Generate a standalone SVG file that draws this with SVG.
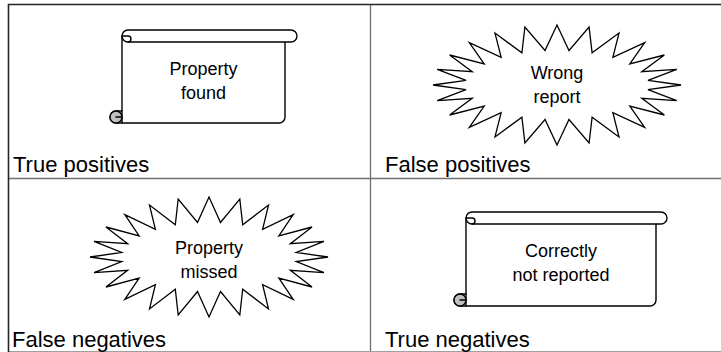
<svg xmlns="http://www.w3.org/2000/svg" xmlns:xlink="http://www.w3.org/1999/xlink" width="721" height="352" viewBox="0 0 721 352">
  <style>
    .label { font-family: "Liberation Sans", Arial, sans-serif; font-size: 22px; fill: #000; }
    .inner { font-family: "Liberation Sans", Arial, sans-serif; font-size: 18px; fill: #000; text-anchor: middle; }
    .shape { fill: #fff; stroke: #000; stroke-width: 1.4; stroke-linejoin: round; }
    .line { fill: none; stroke: #000; stroke-width: 1.4; stroke-linecap: round; }
    .curl { fill: #c0c0c0; stroke: #000; stroke-width: 1.4; }
    .star { fill: #fff; stroke: #000; stroke-width: 1.3; stroke-linejoin: miter; vector-effect: non-scaling-stroke; }
    .grid-dark { stroke: #262626; stroke-width: 1.6; fill: none; }
    .grid { stroke: #707070; stroke-width: 1.3; fill: none; }
    .grid-light { stroke: #a0a0a0; stroke-width: 1.2; fill: none; }
  </style>
  <defs>
    <!-- 24-point star on a unit ellipse (outer radius 100); inner points sit deeper vertically -->
    <path id="star24" class="star" d="M0,-100 L9.66,-57.50 L25.88,-96.59 L28.32,-53.59 L50,-86.60 L45.05,-46.01 L70.71,-70.71 L58.71,-35.31 L86.60,-50 L68.37,-22.20 L96.59,-25.88 L73.37,-7.57 L100,0 L73.37,7.57 L96.59,25.88 L68.37,22.20 L86.60,50 L58.71,35.31 L70.71,70.71 L45.05,46.01 L50,86.60 L28.32,53.59 L25.88,96.59 L9.66,57.50 L0,100 L-9.66,57.50 L-25.88,96.59 L-28.32,53.59 L-50,86.60 L-45.05,46.01 L-70.71,70.71 L-58.71,35.31 L-86.60,50 L-68.37,22.20 L-96.59,25.88 L-73.37,7.57 L-100,0 L-73.37,-7.57 L-96.59,-25.88 L-68.37,-22.20 L-86.60,-50 L-58.71,-35.31 L-70.71,-70.71 L-45.05,-46.01 L-50,-86.60 L-28.32,-53.59 L-25.88,-96.59 L-9.66,-57.50 Z"/>
  </defs>

  <!-- table grid -->
  <g id="grid">
    <path class="grid" d="M8,178.5 H721"/>
    <path class="grid" d="M370.5,4 V352"/>
    <path class="grid-light" d="M8,351.5 H721"/>
    <path class="grid-dark" d="M8,4.5 H721"/>
    <path class="grid-dark" d="M8.5,4 V352"/>
  </g>

  <!-- top-left cell: scroll -->
  <g id="true-positives">
    <path class="shape" d="M122,36 H285 V117 A6,6 0 0 1 279,123 H116 A6,6 0 0 1 116,111 H122 Z"/>
    <path class="shape" d="M128,30 H291 A6,6 0 0 1 291,42 H128 A6,6 0 0 1 128,30 Z"/>
    <path class="line" d="M122.5,36 H128 A3,3 0 0 1 128,42"/>
    <circle class="curl" cx="116" cy="117" r="6"/>
    <path class="line" d="M122,111 V123 M116,117 H122"/>
    <text class="inner" x="203.5" y="75">Property</text>
    <text class="inner" x="203.5" y="99">found</text>
    <text class="label" x="13" y="172">True positives</text>
  </g>

  <!-- top-right cell: star -->
  <g id="false-positives">
    <use xlink:href="#star24" transform="translate(557,85) scale(1.24,0.6)"/>
    <text class="inner" x="557" y="79">Wrong</text>
    <text class="inner" x="557" y="103">report</text>
    <text class="label" x="385" y="172">False positives</text>
  </g>

  <!-- bottom-left cell: star -->
  <g id="false-negatives">
    <use xlink:href="#star24" transform="translate(209,257) scale(1.19,0.6)"/>
    <text class="inner" x="209" y="254">Property</text>
    <text class="inner" x="209" y="278">missed</text>
    <text class="label" x="12" y="347">False negatives</text>
  </g>

  <!-- bottom-right cell: scroll -->
  <g id="true-negatives">
    <path class="shape" d="M466,218 H656 V300 A6,6 0 0 1 650,306 H460 A6,6 0 0 1 460,294 H466 Z"/>
    <path class="shape" d="M472,212 H661 A6,6 0 0 1 661,224 H472 A6,6 0 0 1 472,212 Z"/>
    <path class="line" d="M466.5,218 H472 A3,3 0 0 1 472,224"/>
    <circle class="curl" cx="460" cy="300" r="6"/>
    <path class="line" d="M466,294 V306 M460,300 H466"/>
    <text class="inner" x="561" y="257">Correctly</text>
    <text class="inner" x="561" y="281">not reported</text>
    <text class="label" x="385" y="347">True negatives</text>
  </g>

  <g id="connectors"/>
</svg>
